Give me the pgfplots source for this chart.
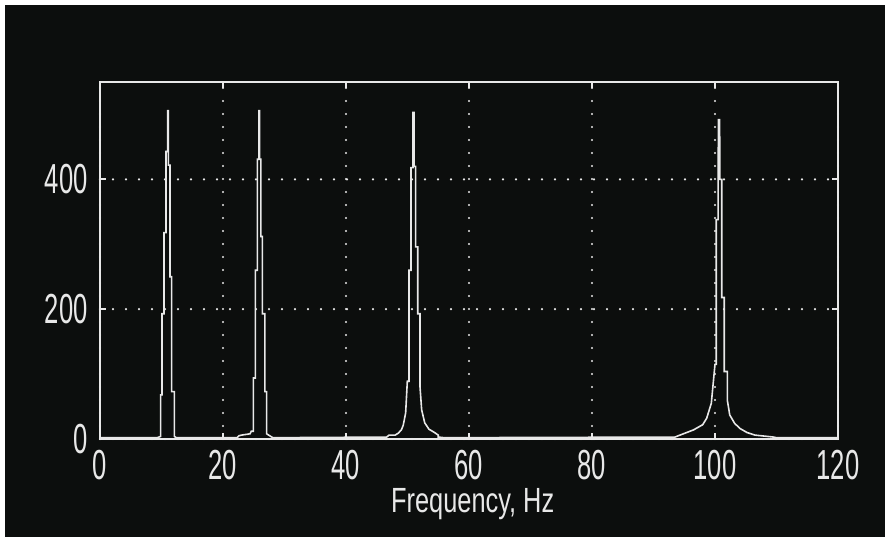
\documentclass[border=0pt]{standalone}
\usepackage{fontspec}
\setmainfont{Liberation Sans}
\usepackage{pgfplots}
\pgfplotsset{compat=1.18}
\definecolor{bg}{RGB}{12,14,13}
\definecolor{fg}{RGB}{232,232,232}
\newcommand{\tl}[1]{\scalebox{0.61}[1]{#1}}
\begin{document}
\begin{tikzpicture}
\fill[white] (0,0) rectangle (442.5pt,268.5pt);
\fill[bg] (2.5pt,0) rectangle (442.5pt,266pt);
\begin{axis}[
  at={(50pt,49pt)}, anchor=south west,
  scale only axis, width=369pt, height=178.5pt,
  xmin=0, xmax=120, ymin=0, ymax=550,
  xtick={0,20,40,60,80,100,120},
  xticklabels={\tl{0},\tl{20},\tl{40},\tl{60},\tl{80},\tl{100},\tl{120}},
  ytick={0,200,400},
  yticklabels={\tl{0},\tl{200},\tl{400}},
  tick align=inside, major tick length=3pt,
  tick style={fg, line width=1pt},
  axis line style={fg, line width=1.2pt},
  ticklabel style={text=fg, font=\fontsize{21}{21}\selectfont, inner sep=0.5pt},
  xticklabel style={yshift=-4.8pt},
  yticklabel style={xshift=-5.5pt},
  grid=major,
  major grid style={fg, line width=1.2pt, line cap=round, dash pattern=on 0pt off 6.5pt},
  xlabel={\scalebox{0.725}[1]{\fontsize{17.5}{17.5}\selectfont Frequency, Hz}},
  xlabel style={at={(axis description cs:0.505,0)}, anchor=base, yshift=-36.5pt, text=fg, inner sep=0pt},
  clip=false,
]
\addplot[fg, line width=0.8pt, line join=miter] coordinates {
(0,2) (9.3,2) (9.59,3) (9.87,4) (9.87,68) (10.08,68) (10.08,193) (10.41,193) (10.41,318) (10.73,318) (10.73,443) (11.0,443) (11.0,506) (11.11,506) (11.11,422) (11.38,422) (11.38,250) (11.65,250) (11.65,73) (12.09,73) (12.09,4) (12.4,2)
(22.3,2) (22.6,5) (23.0,6) (24.4,8) (24.6,12) (24.93,12) (24.93,94) (25.26,94) (25.26,260) (25.58,260) (25.58,431) (25.85,431) (25.85,506) (25.95,506) (25.95,431) (26.15,431) (26.15,312) (26.4,312) (26.4,193) (26.8,193) (26.8,73) (27.1,73) (27.1,8) (27.6,5) (28.1,2)
(46.6,3) (47.0,6) (48.0,6) (48.5,9) (49.0,14) (49.3,21) (49.7,40) (49.97,89) (50.24,89) (50.24,260) (50.57,260) (50.57,418) (50.9,418) (50.9,503) (51.05,503) (51.05,420) (51.33,420) (51.33,296) (51.66,296) (51.66,193) (52.03,193) (52.03,81) (52.3,45) (52.8,25) (53.5,15) (54.4,10) (55.0,6) (55.0,3) (56,2)
(93.5,3) (94.3,6) (96.5,14) (98.0,22) (98.65,32) (99.4,55) (100.0,115) (100.2,115) (100.2,338) (100.5,338) (100.55,492) (100.75,492) (100.8,400) (101.1,400) (101.1,218) (101.5,218) (101.5,104) (102.0,104) (102.0,60) (102.4,37) (103.2,24) (104.1,16) (105.2,10) (106.5,6) (109.5,3) (110,2) (120,2)
};
\end{axis}
\pgfresetboundingbox
\useasboundingbox (0,0) rectangle (442.5pt,268.5pt);
\end{tikzpicture}
\end{document}
